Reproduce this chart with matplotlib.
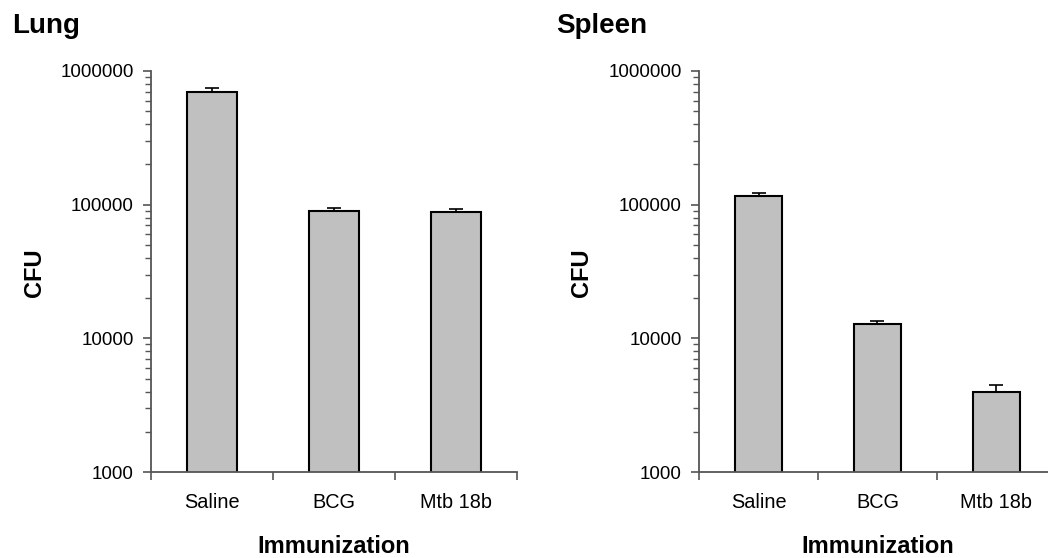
import matplotlib
matplotlib.use("Agg")
import matplotlib.pyplot as plt
from matplotlib.ticker import FixedLocator, NullFormatter, FuncFormatter

plt.rcParams["font.family"] = ["Liberation Sans", "DejaVu Sans"]

groups = ["Saline", "BCG", "Mtb 18b"]

lung_cfu = [692000, 90100, 87700]
lung_err = [50000, 4800, 4600]

spleen_cfu = [116000, 12800, 3950]
spleen_err = [7000, 700, 550]

panels = [("Lung", lung_cfu, lung_err), ("Spleen", spleen_cfu, spleen_err)]

BAR_COLOR = "#c0c0c0"
AXIS_COLOR = "#555555"

fig = plt.figure(figsize=(10.48, 5.58), dpi=100)

# axes boxes in figure fractions (left, width)
ax_box = [(0.1441, 0.3492), (0.6670, 0.3406)]
ylabel_x = [0.0325, 0.5553]
title_x = [0.012, 0.531]
bar_w = [0.41, 0.40]

for i, (name, vals, errs) in enumerate(panels):
    left, width = ax_box[i]
    ax = fig.add_axes([left, 0.1541, width, 0.7187])
    x = list(range(len(groups)))
    ax.bar(x, vals, width=bar_w[i], color=BAR_COLOR, edgecolor="black",
           linewidth=1.5, zorder=2)
    ax.errorbar(x, vals, yerr=[[0] * len(vals), errs], fmt="none",
                ecolor="black", elinewidth=1.2, capsize=5, capthick=1.2,
                zorder=3)
    ax.set_yscale("log")
    ax.set_ylim(1000, 1000000)
    ax.set_xlim(-0.5, 2.5)

    ax.yaxis.set_major_locator(FixedLocator([1e3, 1e4, 1e5, 1e6]))
    ax.yaxis.set_major_formatter(FuncFormatter(lambda v, p: f"{int(round(v))}"))
    minors = [m * 10 ** e for e in (3, 4, 5) for m in range(2, 10)]
    ax.yaxis.set_minor_locator(FixedLocator(minors))
    ax.yaxis.set_minor_formatter(NullFormatter())

    ax.set_xticks(x)
    ax.set_xticklabels(groups, fontsize=14.3)
    ax.set_xticks([-0.5, 0.5, 1.5, 2.5], minor=True)
    ax.tick_params(axis="x", which="major", length=0, pad=15)
    ax.tick_params(axis="x", which="minor", length=6, width=1.2,
                   color=AXIS_COLOR, direction="out")
    ax.tick_params(axis="y", which="major", length=6, width=1.2,
                   color=AXIS_COLOR, labelsize=13.5, pad=6.5)
    ax.tick_params(axis="y", which="minor", length=4, width=1.0,
                   color=AXIS_COLOR)

    for s in ("top", "right"):
        ax.spines[s].set_visible(False)
    for s in ("left", "bottom"):
        ax.spines[s].set_color(AXIS_COLOR)
        ax.spines[s].set_linewidth(1.3)

    fig.text(ylabel_x[i], 0.512, "CFU", rotation=90, ha="center",
             va="center", fontsize=17, fontweight="bold")
    fig.text(left + width / 2, 0.0215, "Immunization", ha="center",
             va="center", fontsize=17, fontweight="bold")
    fig.text(title_x[i], 0.940, name, ha="left", va="baseline",
             fontsize=20, fontweight="bold")

fig.savefig("out.png", dpi=100)
